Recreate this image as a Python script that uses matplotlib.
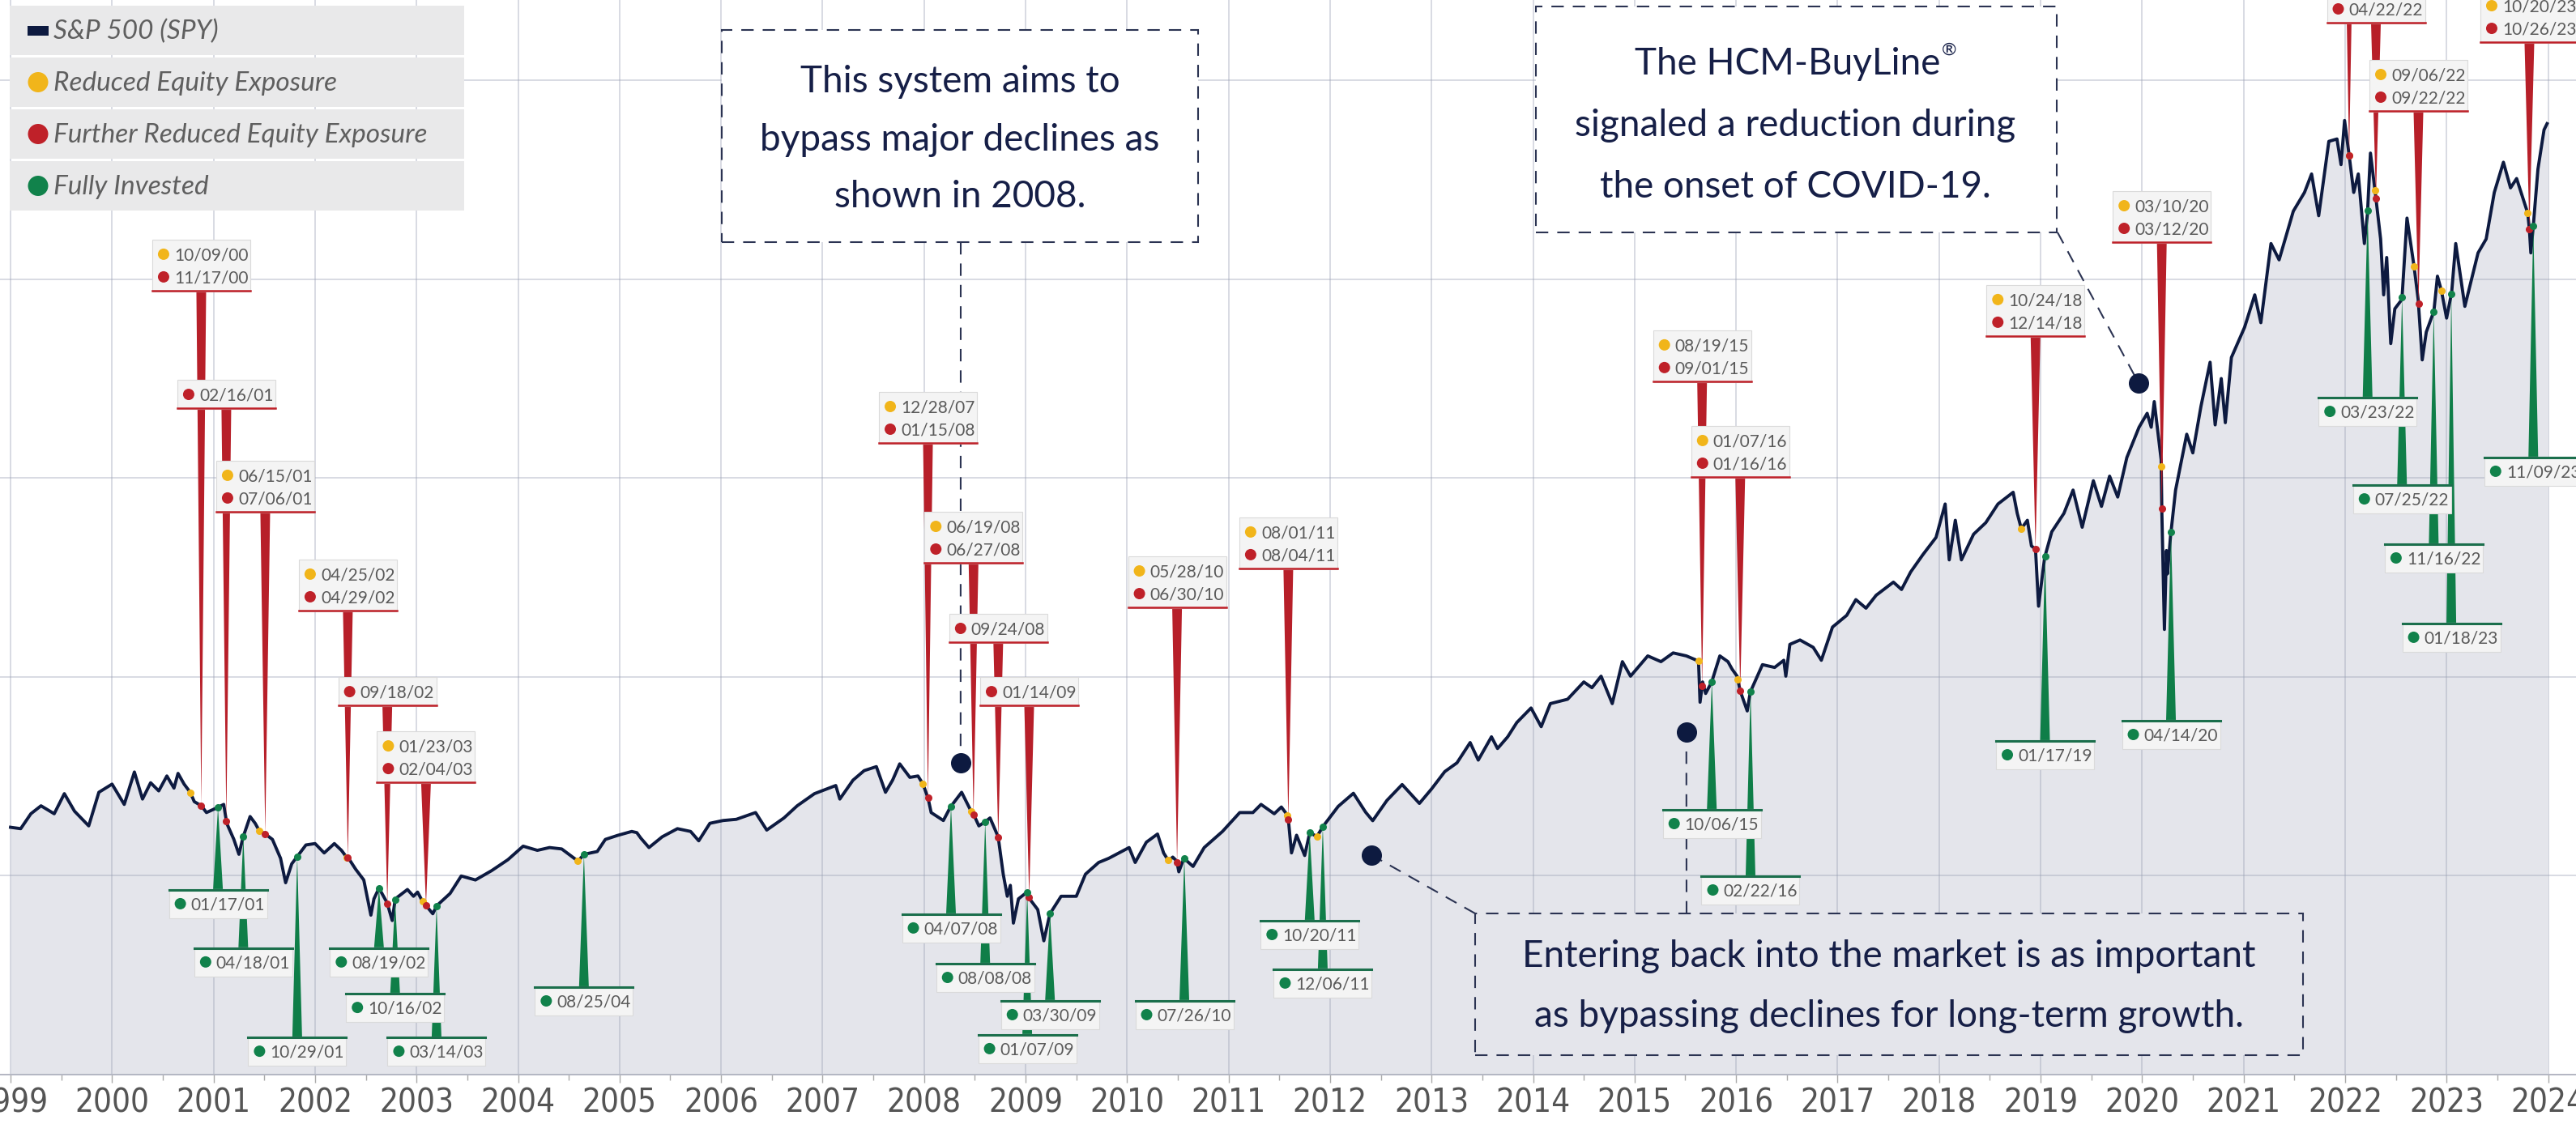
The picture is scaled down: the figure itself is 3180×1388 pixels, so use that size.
import datetime as dt

import matplotlib
matplotlib.use("Agg")
import matplotlib.pyplot as plt
from matplotlib.lines import Line2D
from matplotlib.patches import Circle, Polygon, Rectangle
from matplotlib.transforms import IdentityTransform
import numpy as np

plt.rcParams["lines.scale_dashes"] = False

# S&P 500 (SPY): decimal year / price
spy_years = [
    1999.00, 1999.10, 1999.20, 1999.30, 1999.43, 1999.53, 1999.63, 1999.77, 1999.87, 2000.00,
    2000.12, 2000.22, 2000.30, 2000.38, 2000.46, 2000.54, 2000.61, 2000.65, 2000.71, 2000.77,
    2000.81, 2000.88, 2000.93, 2000.99, 2001.05, 2001.10, 2001.13, 2001.20, 2001.25, 2001.29,
    2001.36, 2001.41, 2001.45, 2001.51, 2001.58, 2001.66, 2001.71, 2001.77, 2001.82, 2001.91,
    2002.00, 2002.09, 2002.19, 2002.26, 2002.31, 2002.33, 2002.40, 2002.48, 2002.55, 2002.58,
    2002.63, 2002.71, 2002.76, 2002.79, 2002.91, 2002.97, 2003.01, 2003.06, 2003.10, 2003.16,
    2003.20, 2003.33, 2003.44, 2003.58, 2003.74, 2003.90, 2004.05, 2004.19, 2004.31, 2004.43,
    2004.59, 2004.65, 2004.78, 2004.86, 2004.98, 2005.12, 2005.17, 2005.21, 2005.29, 2005.42,
    2005.57, 2005.70, 2005.78, 2005.89, 2006.02, 2006.15, 2006.34, 2006.45, 2006.62, 2006.75,
    2006.92, 2007.13, 2007.17, 2007.30, 2007.41, 2007.53, 2007.62, 2007.69, 2007.76, 2007.86,
    2007.94, 2007.99, 2008.04, 2008.07, 2008.19, 2008.26, 2008.37, 2008.47, 2008.49, 2008.54,
    2008.60, 2008.65, 2008.73, 2008.78, 2008.82, 2008.85, 2008.88, 2008.93, 2009.015, 2009.04,
    2009.12, 2009.18, 2009.24, 2009.35, 2009.50, 2009.59, 2009.72, 2009.82, 2010.02, 2010.08,
    2010.19, 2010.30, 2010.36, 2010.41, 2010.45, 2010.49, 2010.51, 2010.56, 2010.65, 2010.76,
    2010.94, 2011.11, 2011.24, 2011.32, 2011.45, 2011.52, 2011.58, 2011.59, 2011.62, 2011.67,
    2011.75, 2011.80, 2011.87, 2011.93, 2012.08, 2012.23, 2012.35, 2012.42, 2012.56, 2012.71,
    2012.88, 2013.00, 2013.13, 2013.25, 2013.38, 2013.46, 2013.59, 2013.65, 2013.75, 2013.84,
    2013.98, 2014.08, 2014.17, 2014.34, 2014.50, 2014.58, 2014.67, 2014.78, 2014.88, 2014.96,
    2015.13, 2015.26, 2015.38, 2015.51, 2015.63, 2015.645, 2015.67, 2015.70, 2015.76, 2015.84,
    2015.92, 2015.96, 2016.01, 2016.04, 2016.11, 2016.14, 2016.26, 2016.38, 2016.47, 2016.49,
    2016.53, 2016.63, 2016.76, 2016.84, 2016.95, 2017.09, 2017.18, 2017.28, 2017.38, 2017.55,
    2017.63, 2017.72, 2017.84, 2017.97, 2018.06, 2018.10, 2018.16, 2018.22, 2018.34, 2018.46,
    2018.58, 2018.73, 2018.77, 2018.81, 2018.87, 2018.91, 2018.95, 2018.98, 2019.04, 2019.11,
    2019.23, 2019.32, 2019.41, 2019.52, 2019.60, 2019.68, 2019.76, 2019.85, 2019.97, 2020.05,
    2020.09, 2020.12, 2020.188, 2020.195, 2020.22, 2020.24, 2020.25, 2020.28, 2020.33, 2020.44,
    2020.50, 2020.58, 2020.67, 2020.72, 2020.78, 2020.82, 2020.88, 2021.01, 2021.11, 2021.17,
    2021.27, 2021.35, 2021.49, 2021.60, 2021.67, 2021.74, 2021.84, 2021.92, 2021.96, 2021.995,
    2022.04, 2022.085, 2022.13, 2022.19, 2022.22, 2022.25, 2022.30, 2022.35, 2022.38, 2022.41,
    2022.45, 2022.49, 2022.56, 2022.61, 2022.68, 2022.72, 2022.76, 2022.80, 2022.875, 2022.91,
    2022.95, 2023.00, 2023.05, 2023.09, 2023.18, 2023.31, 2023.39, 2023.47, 2023.56, 2023.63,
    2023.69, 2023.80, 2023.816, 2023.83, 2023.855, 2023.90, 2023.96, 2023.99,
]
spy_values = [
    124.4, 123.7, 131.2, 135.2, 131.2, 141.3, 132.5, 125.1, 142.0, 146.1,
    135.9, 152.2, 138.6, 146.8, 142.7, 150.2, 144.1, 151.5, 146.1, 142.0,
    137.3, 135.2, 131.8, 133.2, 134.6, 135.9, 126.4, 118.3, 110.8, 119.3,
    129.8, 126.4, 122.7, 121.0, 118.3, 108.8, 96.5, 106.0, 109.4, 115.5,
    116.2, 111.5, 116.2, 112.8, 109.4, 108.8, 103.3, 97.9, 80.2, 88.4,
    93.8, 86.4, 77.5, 88.4, 93.1, 89.7, 91.8, 87.0, 84.6, 80.9,
    85.0, 91.1, 99.9, 97.9, 102.6, 108.1, 114.9, 112.8, 114.2, 113.5,
    107.4, 110.8, 112.2, 118.3, 120.3, 122.3, 121.7, 118.9, 114.2, 119.6,
    123.7, 122.3, 117.6, 126.4, 127.8, 128.4, 131.8, 123.0, 129.1, 135.2,
    141.3, 145.4, 138.6, 148.1, 152.9, 154.9, 142.0, 148.1, 156.3, 149.5,
    150.2, 146.1, 138.9, 131.8, 127.8, 134.6, 142.0, 131.8, 130.7, 125.1,
    127.1, 129.1, 119.6, 100.8, 89.7, 95.2, 76.2, 88.4, 91.8, 88.4,
    83.0, 67.3, 80.9, 89.7, 89.7, 100.8, 106.7, 108.8, 114.2, 106.7,
    116.9, 121.0, 111.5, 107.4, 109.4, 107.4, 102.0, 108.8, 104.7, 114.2,
    122.3, 131.8, 131.8, 135.9, 131.2, 134.6, 130.5, 127.8, 111.5, 120.4,
    110.2, 121.8, 119.7, 124.8, 134.9, 141.5, 132.0, 127.7, 137.9, 145.9,
    136.4, 143.7, 152.4, 156.8, 167.0, 158.2, 169.9, 164.0, 169.9, 177.1,
    184.4, 175.0, 186.6, 188.8, 197.5, 194.6, 200.4, 186.6, 207.7, 200.4,
    210.6, 207.7, 212.1, 210.6, 208.0, 187.3, 197.5, 191.7, 197.5, 210.6,
    207.7, 204.0, 200.4, 193.1, 182.9, 192.4, 206.2, 204.8, 208.4, 200.4,
    216.4, 218.6, 214.9, 208.4, 225.1, 231.0, 238.9, 234.6, 241.1, 247.7,
    244.0, 252.8, 261.5, 270.2, 287.0, 258.9, 278.8, 258.9, 271.8, 277.6,
    287.0, 292.9, 282.3, 274.6, 278.8, 265.9, 264.3, 235.6, 260.1, 273.0,
    282.3, 294.0, 275.3, 298.7, 285.8, 301.0, 290.5, 310.4, 325.6, 332.6,
    325.6, 338.5, 309.2, 282.3, 223.9, 263.6, 251.9, 270.6, 294.0, 322.1,
    312.7, 336.1, 358.3, 326.8, 350.1, 327.9, 360.7, 375.9, 392.2, 378.2,
    418.0, 409.8, 434.3, 443.7, 453.0, 432.0, 469.4, 470.6, 457.7, 479.9,
    462.4, 443.7, 453.0, 418.0, 432.7, 463.5, 442.5, 420.3, 392.2, 411.0,
    367.7, 385.2, 389.9, 430.8, 406.3, 389.9, 359.5, 373.5, 384.0, 401.6,
    394.1, 380.5, 393.4, 418.0, 386.4, 413.3, 420.3, 443.7, 458.9, 446.0,
    450.7, 433.2, 425.0, 413.3, 427.3, 455.4, 475.2, 478.3,
]

# signal boxes above the line: first date yellow, last date red
red_label_dates = [
    ["10/09/00", "11/17/00"], ["02/16/01"], ["06/15/01", "07/06/01"],
    ["04/25/02", "04/29/02"], ["09/18/02"], ["01/23/03", "02/04/03"],
    ["12/28/07", "01/15/08"], ["06/19/08", "06/27/08"], ["09/24/08"],
    ["01/14/09"], ["05/28/10", "06/30/10"], ["08/01/11", "08/04/11"],
    ["08/19/15", "09/01/15"], ["01/07/16", "01/16/16"], ["10/24/18", "12/14/18"],
    ["03/10/20", "03/12/20"], ["04/22/22"], ["09/06/22", "09/22/22"],
    ["10/20/23", "10/26/23"],
]
red_label_levels = [393.9, 334.8, 282.7, 233.0, 185.3, 146.6, 317.3, 257.0, 217.1,
                    185.3, 234.6, 254.2, 348.3, 300.2, 371.1, 418.3, 528.7, 484.3, 518.9]

# signal boxes below the line: fully invested
green_label_dates = ["01/17/01", "04/18/01", "10/29/01", "08/19/02", "10/16/02", "03/14/03",
                     "08/25/04", "04/07/08", "08/08/08", "01/07/09", "03/30/09", "07/26/10",
                     "10/20/11", "12/06/11", "10/06/15", "02/22/16", "01/17/19", "04/14/20",
                     "03/23/22", "07/25/22", "11/16/22", "01/18/23", "11/09/23"]
green_label_levels = [93.3, 64.0, 19.1, 64.0, 41.1, 19.1, 44.4, 81.1, 56.2, 20.4, 37.5, 37.5,
                      77.8, 53.4, 133.6, 100.2, 168.2, 178.4, 340.9, 296.9, 267.2, 227.3, 310.8]

# signals whose label is not on the canvas
extra_yellow = [2004.59, 2011.87, 2022.04, 2022.295, 2022.95]
extra_red = [2022.04]

legend_labels = ["S&P 500 (SPY)", "Reduced Equity Exposure",
                 "Further Reduced Equity Exposure", "Fully Invested"]
year_ticks = list(range(1999, 2025))

NAVY = "#0d1a40"
FILL = "#e4e5eb"
GRID = "#9aa0b5"
YELLOW = "#f1b51a"
RED = "#bf2129"
GREEN = "#11824b"
PIN_RED = "#b71f29"
PIN_GREEN = "#0f7e48"
TXT = "#5a5a5a"
BOX_TXT = "#161f47"
FONT = ["Lato", "DejaVu Sans"]


def dec_year(s):
    d = dt.datetime.strptime(s, "%m/%d/%y")
    return d.year + (d - dt.datetime(d.year, 1, 1)).days / 365.25


W, H = 3180, 1388
fig = plt.figure(figsize=(W / 100, H / 100), dpi=100)
ax = fig.add_axes([0, 61 / H, 1, 1327 / H])
ax.set_xlim(1998.896, 2024.275)
ax.set_ylim(0, 540.5)
ax.set_facecolor("white")

ax.fill_between(spy_years, spy_values, 0, color=FILL, lw=0, zorder=1)
for yr in year_ticks:
    ax.axvline(yr, color=GRID, alpha=0.38, lw=1.4, zorder=1.5)
for v in range(100, 600, 100):
    ax.axhline(v, color=GRID, alpha=0.38, lw=1.4, zorder=1.5)
ax.plot(spy_years, spy_values, color=NAVY, lw=2.8, zorder=3, solid_joinstyle="round")

for s in ["top", "left", "right"]:
    ax.spines[s].set_visible(False)
ax.spines["bottom"].set_color("#b3b6c2")
ax.spines["bottom"].set_linewidth(1.4)
ax.set_yticks([])
ax.set_xticks(year_ticks)
ax.set_xticks([y + 0.5 for y in year_ticks[:-1]], minor=True)
ax.set_xticklabels([str(y) for y in year_ticks],
                   fontfamily=["Liberation Sans Narrow", "DejaVu Sans"],
                   fontstretch="condensed", fontsize=29, color="#555555")
ax.tick_params(axis="x", which="major", length=7.5, width=1, color="#aaaaaa", pad=4)
ax.tick_params(axis="x", which="minor", length=5, width=1, color="#aaaaaa")

ident = IdentityTransform()
to_px = ax.transData.transform


def curve_y(x):
    return float(np.interp(x, spy_years, spy_values))


def pin(x, edge_y, color):
    tip = to_px((x, curve_y(x)))
    ax.add_patch(Polygon([(tip[0] - 6, edge_y), (tip[0] + 6, edge_y), tuple(tip)],
                         closed=True, transform=ident, fc=color, ec="none", zorder=4))
    return tip[0]


def label_box(xc, edge_y, lines, top_edge):
    n = len(lines)
    h, w = 8 + 28 * n, 121
    x0 = xc - w / 2
    y0 = edge_y if top_edge == "red" else edge_y - h
    ax.add_patch(Rectangle((x0, y0), w, h, transform=ident, fc="#f4f4f4",
                           ec="#dadada", lw=0.8, zorder=6))
    if top_edge == "red":
        ax.add_line(Line2D([x0, x0 + w], [y0 + 1, y0 + 1], transform=ident,
                           color=RED, lw=1.8, zorder=6.5))
    else:
        ax.add_line(Line2D([x0, x0 + w], [y0 + h - 1, y0 + h - 1], transform=ident,
                           color="#1b6f4c", lw=2.2, zorder=6.5))
    for i, (txt, col) in enumerate(lines):
        ly = y0 + h - 18 - 28 * i
        ax.add_patch(Circle((x0 + 14, ly), 7, transform=ident, fc=col, ec="none", zorder=7))
        ax.text(x0 + 27, ly - 7.5, txt, transform=ident, ha="left", va="baseline",
                fontsize=15, family=FONT, color=TXT, zorder=7)


# pins and boxes above the line
for dates, level in zip(red_label_dates, red_label_levels):
    x_red = dec_year(dates[-1])
    edge = to_px((x_red, level))[1]
    xc = pin(x_red, edge, PIN_RED)
    cols = [YELLOW, RED] if len(dates) == 2 else [RED]
    label_box(xc, edge, list(zip(dates, cols)), "red")

# pins from a label above the chart top
for x in extra_red:
    pin(x, to_px((x, 600))[1], PIN_RED)

# pins and boxes below the line
for date, level in zip(green_label_dates, green_label_levels):
    x_g = dec_year(date)
    edge = to_px((x_g, level))[1]
    xc = pin(x_g, edge, PIN_GREEN)
    label_box(xc, edge, [(date, GREEN)], "green")

# dots on the line
yel = [dec_year(d[0]) for d in red_label_dates if len(d) == 2] + extra_yellow
red = [dec_year(d[-1]) for d in red_label_dates] + extra_red
grn = [dec_year(d) for d in green_label_dates]
for xs, col in [(yel, YELLOW), (red, RED), (grn, GREEN)]:
    ax.plot(xs, [curve_y(x) for x in xs], "o", ms=6.5, color=col, mec="none", zorder=5)


# callouts, laid out in figure pixels (y from top)
def P(x, y):
    return (x, H - y)


DASH = (0, (11, 8))
callouts = [
    ((891, 37, 588, 262), "white", 1185,
     ["This system aims to", "bypass major declines as", "shown in 2008."], [97, 170, 240]),
    ((1896, 8, 643, 279), "white", 2216,
     ["The HCM-BuyLine", "signaled a reduction during", "the onset of COVID-19."], [75, 152, 227]),
    ((1821, 1128, 1022, 175), FILL, 2332,
     ["Entering back into the market is as important",
      "as bypassing declines for long-term growth."], [1178, 1252]),
]
renderer = fig.canvas.get_renderer()
for (bx, by, bw, bh), fc, cx, lines, ys in callouts:
    ax.add_patch(Rectangle(P(bx, by + bh), bw, bh, transform=ident, fc=fc, ec="#2b3352",
                           lw=1.5, ls=DASH, zorder=6))
    for txt, ly in zip(lines, ys):
        shift = -9 if txt.endswith("BuyLine") else 0
        t = ax.text(*P(cx + shift, ly + 16.5), txt, transform=ident, ha="center",
                    va="baseline", fontsize=33, family=FONT, color=BOX_TXT, zorder=7)
        if txt.endswith("BuyLine"):
            bb = t.get_window_extent(renderer=renderer)
            ax.text(bb.x1 + 1, H - (ly - 7), "®", transform=ident, ha="left", va="baseline",
                    fontsize=16, family=FONT, color=BOX_TXT, zorder=7)

# leader lines and points
leaders = [((1186, 299), (2008.36, 156.8)), ((2540, 287), (2019.965, 347.9)),
           ((1821, 1128), (2012.41, 110.4)), ((2082, 1128), (2015.51, 172.3))]
for (lx, ly), (dx, dy) in leaders:
    d = to_px((dx, dy))
    ax.add_line(Line2D([lx, d[0]], [H - ly, d[1]], transform=ident, color="#2b3352",
                       lw=1.5, ls=DASH, zorder=5.5))
    ax.plot(dx, dy, "o", ms=17, color=NAVY, zorder=5.6)

# legend rows
row_h, row_gap, row_top = 61, 3, 7
for i, lab in enumerate(legend_labels):
    top = row_top + i * (row_h + row_gap)
    ax.add_patch(Rectangle(P(12, top + row_h), 561, row_h, transform=ident,
                           fc="#e9e9ea", ec="none", zorder=8))
    cy = top + row_h / 2
    if i == 0:
        ax.add_patch(Rectangle(P(34, cy + 6), 26, 12, transform=ident, fc=NAVY,
                               ec="none", zorder=9))
    else:
        col = [YELLOW, RED, GREEN][i - 1]
        ax.add_patch(Circle(P(47, cy), 12.5, transform=ident, fc=col, ec="none", zorder=9))
    ax.text(*P(66, cy + 11), lab, transform=ident, ha="left", va="baseline", fontsize=24,
            family=FONT, style="italic", color="#5f5f5f", zorder=9)

fig.savefig("out.png", dpi=100)
